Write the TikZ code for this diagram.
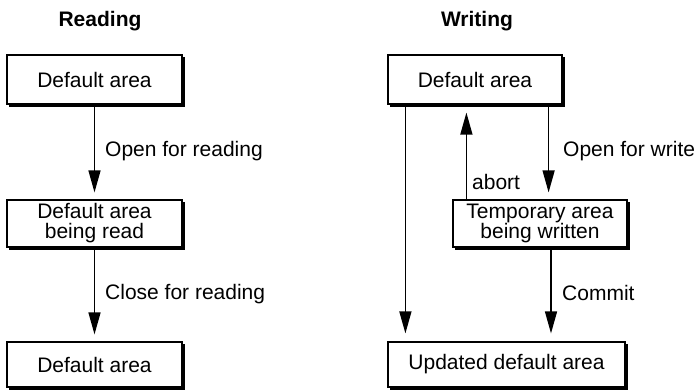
\documentclass[tikz,border=0pt]{standalone}
\usepackage{fontspec}
\setmainfont{Liberation Sans}
\usetikzlibrary{arrows.meta,calc}
\newcommand\boxshade[1]{\draw[line width=2.8pt,line cap=butt]
  ([shift={(2.8,-1.4)}]#1.south west) -- ([shift={(1.4,-1.4)}]#1.south east) -- ([shift={(1.4,-2.8)}]#1.north east);}
\begin{document}
\begin{tikzpicture}[x=1pt,y=1pt,
  box/.style={draw,line width=1.2pt,fill=white,align=center,inner sep=0pt,
    font=\fontsize{21}{20}\selectfont},
  arr/.style={line width=1.4pt,-{Triangle[length=22pt,width=12pt]}},
  lbl/.style={anchor=base west,inner sep=0pt,font=\fontsize{21}{21}\selectfont},
  ttl/.style={anchor=base,inner sep=0pt,font=\fontsize{21}{21}\selectfont\bfseries}]
\useasboundingbox (0,0) rectangle (696,391);
\node[ttl] (tr) at (100,364) {Reading};
\node[ttl] (tw) at (477,364) {Writing};
\node[box,minimum width=175pt,minimum height=49pt] (B1) at (94.5,311.5) {Default area};
\node[box,minimum width=175pt,minimum height=47pt] (B2) at (94.5,167.5) {Default area\\being read};
\node[box,minimum width=175pt,minimum height=45pt] (B3) at (94.5,26.5) {Default area};
\node[box,minimum width=174pt,minimum height=49pt] (W1) at (475,311.5) {Default area};
\node[box,minimum width=174pt,minimum height=47pt] (W2) at (540,167.5) {Temporary area\\being written};
\node[box,minimum width=237pt,minimum height=45pt] (W3) at (506.5,26.5) {Updated default area};
\boxshade{B1}\boxshade{B2}\boxshade{B3}\boxshade{W1}\boxshade{W2}\boxshade{W3}
\draw[arr,shorten >=7pt] (B1.south) -- (B2.north);
\draw[arr,shorten >=7pt] (B2.south) -- (B3.north);
\node[lbl] (l1) at (105,234) {Open for reading};
\node[lbl] (l2) at (105,91) {Close for reading};
\coordinate (a1) at ([xshift=18pt]W1.south west);
\coordinate (a2) at ([xshift=18pt]W3.north west);
\draw[arr,shorten >=8pt] (a1) -- (a2);
\coordinate (b1) at ([xshift=14pt]W2.north west);
\coordinate (b2) at (b1 |- W1.south);
\draw[arr,shorten >=8pt] (b1) -- (b2);
\coordinate (c1) at ([xshift=-14pt]W1.south east);
\coordinate (c2) at (c1 |- W2.north);
\draw[arr,shorten >=7pt] (c1) -- (c2);
\coordinate (d1) at ([xshift=11pt]W2.south);
\coordinate (d2) at (d1 |- W3.north);
\draw[arr,shorten >=8pt] (d1) -- (d2);
\node[lbl] (l3) at (563,234) {Open for write};
\node[lbl] (l4) at (472,201) {abort};
\node[lbl] (l5) at (562,90) {Commit};
\end{tikzpicture}
\end{document}
